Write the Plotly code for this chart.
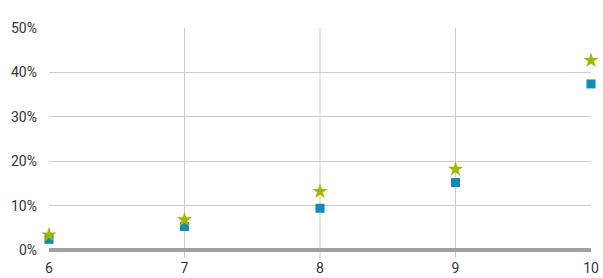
import plotly.graph_objects as go

x_vals = [6, 7, 8, 9, 10]
series_square = [2.4, 5.3, 9.4, 15.2, 37.4]
series_star = [3.4, 6.8, 13.2, 18.2, 42.7]
y_ticks = [0, 10, 20, 30, 40, 50]
y_labels = [f"{v}%" for v in y_ticks]

FONT = "Roboto, DejaVu Sans, sans-serif"

fig = go.Figure()
fig.add_trace(go.Scatter(x=x_vals, y=series_square, mode="markers",
                         marker=dict(symbol="square", size=9, color="#0b8db8"),
                         cliponaxis=False, showlegend=False))
fig.add_trace(go.Scatter(x=x_vals, y=series_star, mode="markers",
                         marker=dict(symbol="star", size=11.5, color="#a2b700",
                                     line=dict(width=0)),
                         cliponaxis=False, showlegend=False))

# vertical gridlines at interior categories
for xv in x_vals[1:-1]:
    fig.add_shape(type="line", xref="x", yref="paper", x0=xv, x1=xv, y0=-0.036, y1=1,
                  line=dict(color="#cccccc", width=1), layer="below")

fig.update_layout(
    width=603, height=278,
    margin=dict(l=49, r=12, t=28, b=28),
    paper_bgcolor="white", plot_bgcolor="white",
    font=dict(family=FONT, size=14, color="#333333"),
    xaxis=dict(range=[6, 10], tickvals=x_vals, showgrid=False, zeroline=False,
               showline=False, ticks="", ticklabelstandoff=8, automargin=False),
    yaxis=dict(range=[0, 50], tickvals=y_ticks, ticktext=y_labels, showgrid=True,
               gridcolor="#cccccc", gridwidth=1, zeroline=True, zerolinecolor="#a0a0a0",
               zerolinewidth=4, showline=False, ticks="", ticklabelstandoff=11,
               automargin=False),
)
fig.write_html(
    "out.html",
    config={"displayModeBar": False},
    post_script="document.body.style.margin='0';document.body.style.overflow='hidden';",
)
